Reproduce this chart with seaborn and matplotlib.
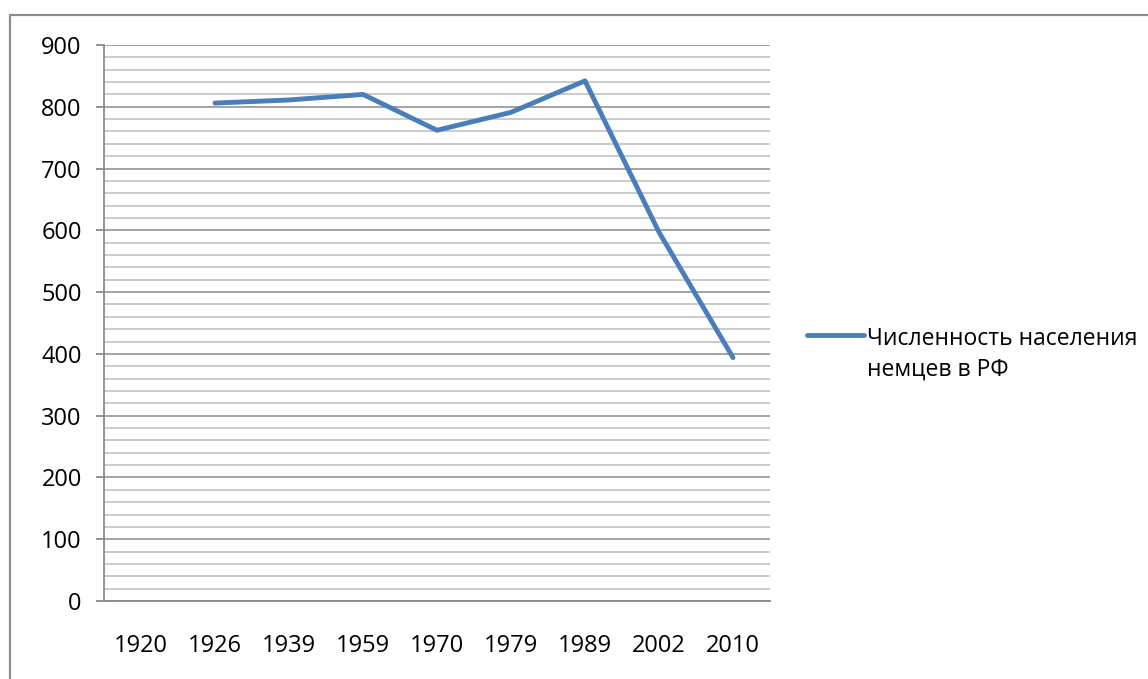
import numpy as np
import pandas as pd
import matplotlib
matplotlib.use("Agg")
import matplotlib.pyplot as plt
import seaborn as sns
from matplotlib.legend_handler import HandlerLine2D
from matplotlib.lines import Line2D

years = ["1920", "1926", "1939", "1959", "1970", "1979", "1989", "2002", "2010"]
population = [np.nan, 806, 811, 820, 762, 791, 842, 597, 394]
series_name = "Численность населения\nнемцев в РФ"

df = pd.DataFrame({"pos": np.arange(len(years)), "value": population})

sns.set_style("white")
plt.rcParams["font.family"] = ["Open Sans", "DejaVu Sans"]
plt.rcParams["text.color"] = "black"
plt.rcParams["xtick.labelcolor"] = "black"
plt.rcParams["ytick.labelcolor"] = "black"

fig = plt.figure(figsize=(11.48, 6.79), dpi=100)
ax = fig.add_axes([104 / 1148, 1 - 601 / 679, 666 / 1148, 556 / 679])

sns.lineplot(data=df, x="pos", y="value", ax=ax, color="#4A7EBB",
             linewidth=3.5, label=series_name, solid_capstyle="round")

ax.set_xlim(-0.5, len(years) - 0.5)
ax.set_ylim(0, 900)
ax.set_yticks(np.arange(0, 901, 100))
ax.set_yticks(np.arange(0, 901, 20), minor=True)
ax.grid(axis="y", which="minor", color="#BDBDBD", linewidth=1.1)
ax.grid(axis="y", which="major", color="#8A8A8A", linewidth=1.1)
ax.set_axisbelow(True)

ax.set_xticks(np.arange(-0.5, len(years), 1.0))
ax.set_xticklabels([])
ax.set_xticks(np.arange(len(years)), minor=True)
ax.set_xticklabels(years, minor=True)
ax.tick_params(axis="x", which="major", length=6, width=1.3, color="#8A8A8A", direction="out")
ax.tick_params(axis="x", which="minor", length=0, pad=24, labelsize=17)
ax.tick_params(axis="y", which="major", length=6, width=1.3, color="#8A8A8A",
               direction="out", pad=10, labelsize=17, left=True)
ax.tick_params(axis="y", which="minor", length=0)
ax.set_xlabel("")
ax.set_ylabel("")

for s in ["top", "right"]:
    ax.spines[s].set_visible(False)
for s in ["left", "bottom"]:
    ax.spines[s].set_color("#8A8A8A")
    ax.spines[s].set_linewidth(1.3)


class TopHandler(HandlerLine2D):
    def create_artists(self, legend, orig_handle, xdescent, ydescent, width,
                       height, fontsize, trans):
        arts = super().create_artists(legend, orig_handle, xdescent, ydescent,
                                      width, height, fontsize, trans)
        for a in arts:
            a.set_ydata(np.asarray(a.get_ydata()) + fontsize * 0.9)
        return arts


handles, labels = ax.get_legend_handles_labels()
leg = ax.legend(handles, labels, handler_map={Line2D: TopHandler()},
                loc="upper left", bbox_to_anchor=(807 / 1148, 1 - 327 / 679),
                bbox_transform=fig.transFigure, frameon=False, fontsize=16.5,
                handlelength=2.5, handletextpad=0.1, borderpad=0, borderaxespad=0,
                labelspacing=0)
for t in leg.get_texts():
    t.set_linespacing(1.35)

# outer chart frame (top and left edges visible)
fig.add_artist(Line2D([10 / 1148, 10 / 1148], [0, 1 - 15 / 679],
                      transform=fig.transFigure, color="#8C8C8C", linewidth=1.6))
fig.add_artist(Line2D([10 / 1148, 1], [1 - 15 / 679, 1 - 15 / 679],
                      transform=fig.transFigure, color="#8C8C8C", linewidth=1.6))

fig.savefig("out.png", dpi=100)
